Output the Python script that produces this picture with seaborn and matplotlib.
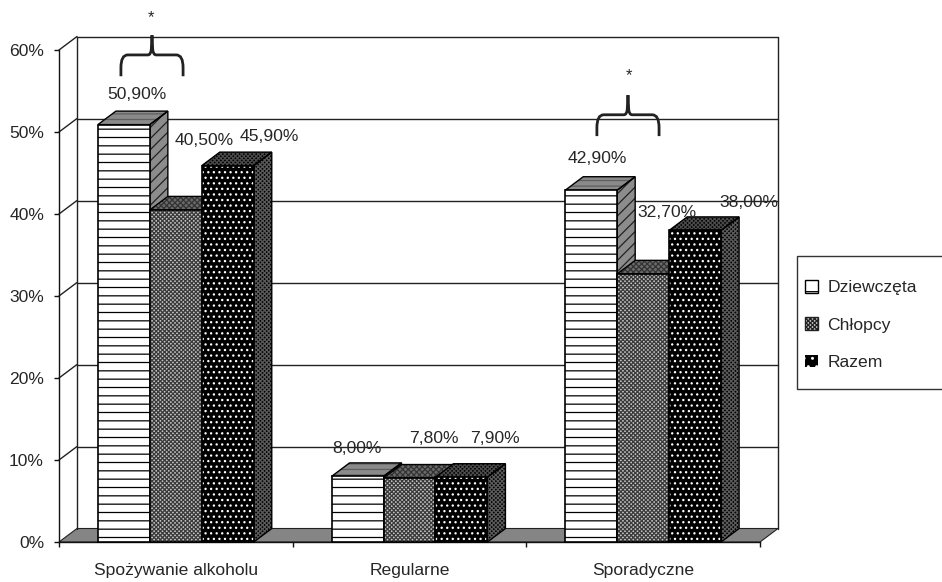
import matplotlib
matplotlib.use("Agg")
import matplotlib.pyplot as plt
from matplotlib.patches import Patch, PathPatch, Polygon, Rectangle
from matplotlib.path import Path
import pandas as pd
import seaborn as sns

categories = ["Spożywanie alkoholu", "Regularne", "Sporadyczne"]
series_names = ["Dziewczęta", "Chłopcy", "Razem"]
dziewczeta = [50.9, 8.0, 42.9]
chlopcy = [40.5, 7.8, 32.7]
razem = [45.9, 7.9, 38.0]
y_ticks = [0, 10, 20, 30, 40, 50, 60]

# label offsets from the top centre of each bar's front face, in pixels
label_offsets = {
    "Dziewczęta": [(13, 30), (-1, 28), (6, 32)],
    "Chłopcy": [(28, 69), (24, 40), (24, 61)],
    "Razem": [(42, 29), (33, 39), (54, 28)],
}

W, H = 942, 582
TEXT = "#262626"
px = 72 / 100  # points per pixel at 100 dpi

sns.set_style("white")
plt.rcParams["font.family"] = ["Liberation Sans", "DejaVu Sans"]
plt.rcParams["hatch.linewidth"] = 0.9
FS = 12.6

fig = plt.figure(figsize=(W / 100, H / 100), dpi=100)
ax = fig.add_axes([59 / W, (H - 542) / H, 701 / W, 492 / H])

df = pd.DataFrame({
    "category": categories * 3,
    "series": [s for s in series_names for _ in categories],
    "value": dziewczeta + chlopcy + razem,
})
sns.barplot(data=df, x="category", y="value", hue="series", hue_order=series_names,
            order=categories, width=0.667, gap=0, legend=False, ax=ax,
            palette=["white", "white", "black"])

ax.set_xlim(-0.5, 2.5)
ax.set_ylim(0, 60)
ax.set_xlabel("")
ax.set_ylabel("")

# oblique depth of the pseudo-3D box, in data units
DX, DY = 18 / (701 / 3), 13.5 / (492 / 60)
x0, x1 = -0.5, 2.5

# floor, back wall and gridlines
ax.add_patch(Polygon([(x0, 0), (x1, 0), (x1 + DX, DY), (x0 + DX, DY)], closed=True,
                     fc="#858585", ec="#222222", lw=0.8, clip_on=False, zorder=1))
for t in y_ticks[1:]:
    ax.plot([x0 + DX, x1 + DX], [t + DY, t + DY], color="#222222", lw=1.0,
            clip_on=False, zorder=1.5)
    ax.plot([x0, x0 + DX], [t, t + DY], color="#222222", lw=1.0, clip_on=False, zorder=1.5)
for x in (x0 + DX, x1 + DX):
    ax.plot([x, x], [DY, 60 + DY], color="#222222", lw=1.0, clip_on=False, zorder=1.5)


def face(points, fill, hatch, hatch_color, z):
    ax.add_patch(Polygon(points, closed=True, fc=fill, ec=hatch_color, lw=0, hatch=hatch,
                         clip_on=False, zorder=z))
    ax.add_patch(Polygon(points, closed=True, fill=False, ec="black", lw=1.0,
                         clip_on=False, zorder=z + 0.1))


front_style = {
    "Dziewczęta": ("white", "--", "black"),
    "Chłopcy": ("#c4c4c4", "xxxxxxxx", "#3a3a3a"),
    "Razem": ("black", "...", "white"),
}
side_style = {
    "Dziewczęta": ("#8c8c8c", "///", "#222222"),
    "Chłopcy": ("#777777", "/////", "#111111"),
    "Razem": ("black", "xxxxxxxx", "#5a5a5a"),
}
top_style = {
    "Dziewczęta": ("#8a8a8a", "---", "#5f5f5f"),
    "Chłopcy": ("#6a6a6a", "xxxxxx", "#333333"),
    "Razem": ("black", "xxxxxxxx", "#4a4a4a"),
}

for i, (name, container) in enumerate(zip(series_names, ax.containers)):
    z = 3 + 2 * i
    fill, hatch, color = front_style[name]
    for j, bar in enumerate(container):
        left, w, h = bar.get_x(), bar.get_width(), bar.get_height()
        right = left + w
        bar.set(facecolor=fill, edgecolor=color, hatch=hatch, linewidth=0, zorder=z + 1,
                clip_on=False)
        ax.add_patch(Rectangle((left, 0), w, h, fill=False, ec="black", lw=1.2,
                               clip_on=False, zorder=z + 1.1))
        face([(right, 0), (right + DX, DY), (right + DX, h + DY), (right, h)],
             *side_style[name], z)
        face([(left, h), (right, h), (right + DX, h + DY), (left + DX, h + DY)],
             *top_style[name], z)
        label = f"{h:.2f}".replace(".", ",") + "%"
        dx, dy = label_offsets[name][j]
        ax.annotate(label, (left + w / 2, h), xytext=(dx * px, dy * px),
                    textcoords="offset points", ha="center", va="center",
                    fontsize=FS, color=TEXT, zorder=20, annotation_clip=False)

# axes: ticks on the category boundaries, names centred between them
for side in ("top", "right"):
    ax.spines[side].set_visible(False)
for side in ("left", "bottom"):
    ax.spines[side].set_visible(True)
    ax.spines[side].set_color("#111111")
    ax.spines[side].set_linewidth(1.0)
    ax.spines[side].set_zorder(2)
ax.set_yticks(y_ticks, [f"{t}%" for t in y_ticks])
ax.set_xticks([-0.5, 0.5, 1.5, 2.5], [""] * 4)
ax.set_xticks([0, 1, 2], categories, minor=True)
ax.tick_params(axis="y", left=True, length=5 * px, width=1.0, color="#111111",
               pad=10 * px, labelsize=FS, labelcolor=TEXT)
ax.tick_params(axis="x", which="major", bottom=True, length=5 * px, width=1.0, color="#111111")
ax.tick_params(axis="x", which="minor", bottom=True, length=0, pad=21 * px,
               labelsize=FS, labelcolor=TEXT)


def brace(cx, half, bottom, mid, top):
    """Curly brace opening downward, with its point above cx."""
    cw = half * 0.22
    ch = (mid - bottom) * 0.6
    verts = [
        (cx - half, bottom), (cx - half, mid - ch), (cx - half, mid), (cx - half + cw, mid),
        (cx - cw * 0.6, mid), (cx - cw * 0.15, mid), (cx - cw * 0.1, mid + (top - mid) * 0.3),
        (cx, top),
        (cx + cw * 0.1, mid + (top - mid) * 0.3), (cx + cw * 0.15, mid), (cx + cw * 0.6, mid),
        (cx + half - cw, mid), (cx + half, mid), (cx + half, mid - ch), (cx + half, bottom),
    ]
    codes = [Path.MOVETO, Path.LINETO, Path.CURVE3, Path.CURVE3,
             Path.LINETO, Path.CURVE3, Path.CURVE3, Path.LINETO,
             Path.LINETO, Path.CURVE3, Path.CURVE3,
             Path.LINETO, Path.CURVE3, Path.CURVE3, Path.LINETO]
    ax.add_patch(PathPatch(Path(verts, codes), fill=False, ec="#222222", lw=2.0,
                           clip_on=False, zorder=15))


brace(-0.102, 0.133, 56.8, 59.4, 61.8)
brace(1.935, 0.133, 49.5, 52.1, 54.5)
ax.text(-0.105, 64.0, "*", ha="center", va="center", fontsize=12, color=TEXT, clip_on=False)
ax.text(1.939, 56.9, "*", ha="center", va="center", fontsize=12, color=TEXT, clip_on=False)

# legend box, open towards the right edge of the figure
fig.add_artist(Rectangle((797 / W, (H - 389) / H), 160 / W, 133 / H, fill=False,
                         ec="#333333", lw=1.0, transform=fig.transFigure))
handles = [
    Patch(fc="white", ec="black", hatch="-", lw=1.0),
    Patch(fc="#c4c4c4", ec="#222222", hatch="xxxxxxxx", lw=1.0),
    Patch(fc="black", ec="white", hatch="..", lw=0),
]
fig.legend(handles, series_names, loc="center left",
           bbox_to_anchor=(805 / W, (H - 325) / H), frameon=False, fontsize=FS,
           labelspacing=1.25, handlelength=0.72, handleheight=0.72, handletextpad=0.55,
           borderpad=0, borderaxespad=0, labelcolor=TEXT)

fig.savefig("out.png", dpi=100, facecolor="white")
